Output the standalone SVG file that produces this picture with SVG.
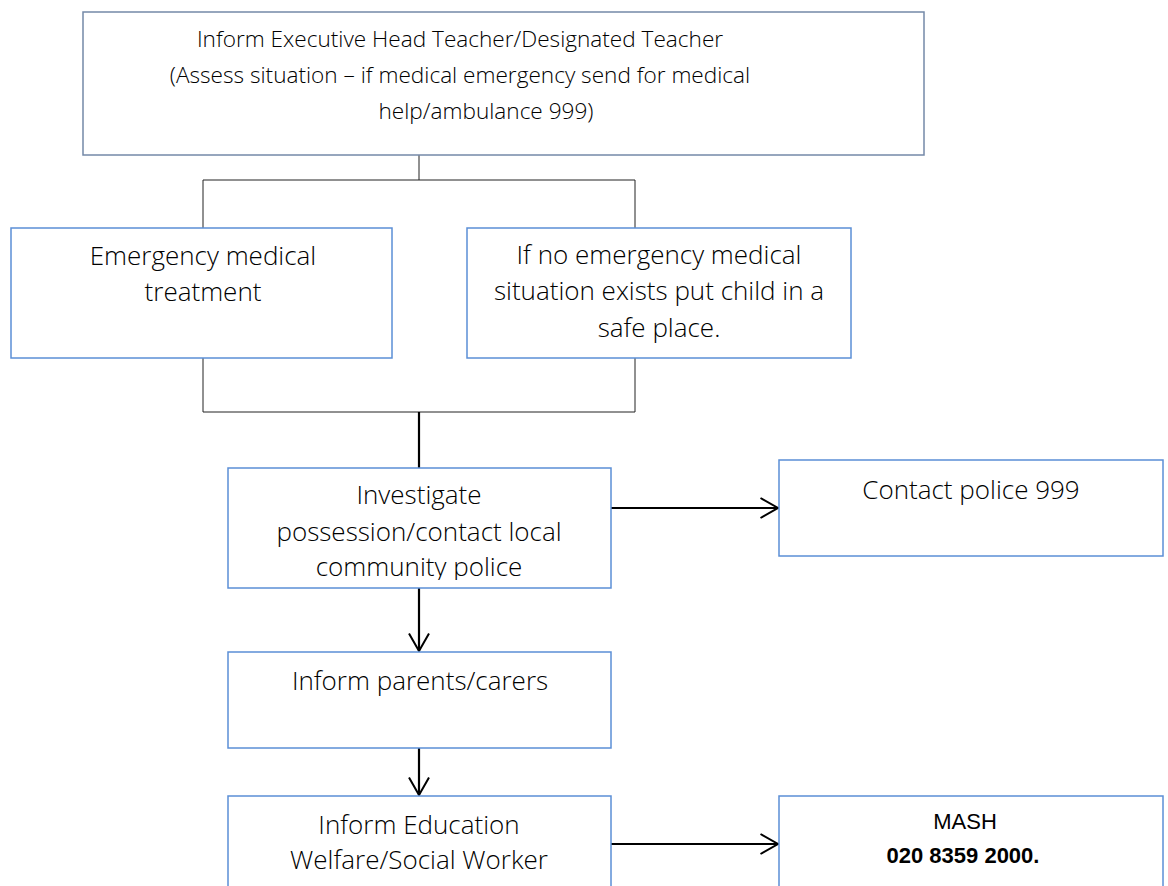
<svg xmlns="http://www.w3.org/2000/svg" width="1168" height="886" viewBox="0 0 1168 886">
<style>
.box{fill:#fff;stroke:#5b8fd6;stroke-width:1.5}
.top{fill:#fff;stroke:#7489a8;stroke-width:1.5}
.t{font-family:"Open Sans","Liberation Sans",sans-serif;font-weight:300;font-size:26px;fill:#000;text-anchor:middle}
.tt{font-family:"Open Sans","Liberation Sans",sans-serif;font-weight:300;font-size:22.6px;fill:#000;text-anchor:middle}
.a{font-family:"Liberation Sans",Arial,sans-serif;font-size:22px;fill:#000;text-anchor:middle}
.thin{stroke:#222;stroke-width:1;fill:none}
.thick{stroke:#000;stroke-width:2.2;fill:none}
</style>
<defs>
<marker id="arr" viewBox="0 0 20 22" refX="18.5" refY="11" markerWidth="20" markerHeight="22" markerUnits="userSpaceOnUse" orient="auto">
<path d="M1,1 L18.5,11 L1,21" fill="none" stroke="#000" stroke-width="2"/>
</marker>
</defs>
<rect width="1168" height="886" fill="#fff"/>
<g id="connectors">
<path class="thin" d="M419,155 V180 M203,228 V180 H635 V228"/>
<path class="thin" d="M203,358 V412 H635 V358"/>
<path class="thick" d="M419,412 V468"/>
<path class="thick" d="M611,508 H778" marker-end="url(#arr)"/>
<path class="thick" d="M419,588 V651" marker-end="url(#arr)"/>
<path class="thick" d="M419,748 V795" marker-end="url(#arr)"/>
<path class="thick" d="M611,844 H778" marker-end="url(#arr)"/>
</g>
<g id="n1">
<rect class="top" x="83" y="12" width="841" height="143"/>
<text class="tt" x="460" y="47">Inform Executive Head Teacher/Designated Teacher</text>
<text class="tt" x="460" y="83">(Assess situation – if medical emergency send for medical</text>
<text class="tt" x="486" y="119">help/ambulance 999)</text>
</g>
<g id="n2">
<rect class="box" x="11" y="228" width="381" height="130"/>
<text class="t" x="203" y="265">Emergency medical</text>
<text class="t" x="203" y="301">treatment</text>
</g>
<g id="n3">
<rect class="box" x="467" y="228" width="384" height="130"/>
<text class="t" x="659" y="264">If no emergency medical</text>
<text class="t" x="659" y="300">situation exists put child in a</text>
<text class="t" x="659" y="337">safe place.</text>
</g>
<g id="n4">
<rect class="box" x="228" y="468" width="383" height="120"/>
<svg x="228" y="468" width="383" height="112" overflow="hidden">
<text class="t" x="191" y="36">Investigate</text>
<text class="t" x="191" y="73">possession/contact local</text>
<text class="t" x="191" y="108">community police</text>
</svg>
</g>
<g id="n5">
<rect class="box" x="779" y="460" width="384" height="96"/>
<text class="t" x="971" y="499">Contact police 999</text>
</g>
<g id="n6">
<rect class="box" x="228" y="652" width="383" height="96"/>
<text class="t" x="420" y="690">Inform parents/carers</text>
</g>
<g id="n7">
<rect class="box" x="228" y="796" width="383" height="100"/>
<text class="t" x="419" y="834">Inform Education</text>
<text class="t" x="419" y="869">Welfare/Social Worker</text>
</g>
<g id="n8">
<rect class="box" x="779" y="796" width="384" height="100"/>
<text class="a" x="965" y="829">MASH</text>
<text class="a" x="963" y="863" font-weight="bold">020 8359 2000.</text>
</g>
</svg>
